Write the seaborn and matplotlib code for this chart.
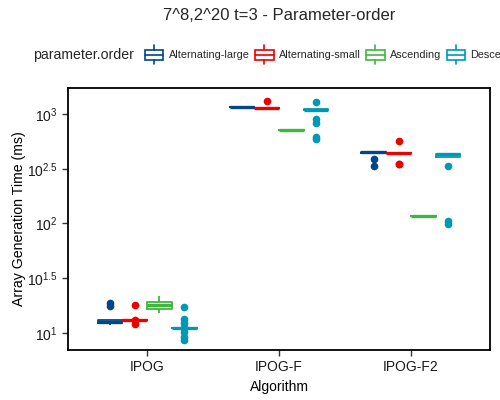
import numpy as np
import pandas as pd
import seaborn as sns
import matplotlib
matplotlib.use("Agg")
from matplotlib import pyplot as plt
from matplotlib.patches import Rectangle
from matplotlib.lines import Line2D
from matplotlib.legend_handler import HandlerBase

algorithms = ["IPOG", "IPOG-F", "IPOG-F2"]
orders = ["Alternating-large", "Alternating-small", "Ascending", "Descending"]
colors = ["#00468B", "#ED0000", "#42B540", "#0099B4"]

# generation times (ms) per algorithm / parameter order
ipog_alt_large = [11.8, 11.9, 12.1, 12.4, 12.6, 12.6, 12.7, 13.0, 13.1, 13.2, 17.7, 18.8]
ipog_alt_small = [12.1, 13.1, 13.2, 13.2, 13.2, 13.2, 13.2, 13.2, 13.3, 13.3, 18.0]
ipog_ascending = [15.2, 16.0, 16.3, 17.2, 17.8, 18.0, 18.2, 18.8, 19.2, 19.5, 21.8]
ipog_descending = [8.6, 9.2, 10.2, 11.0, 11.1, 11.1, 11.1, 11.1, 11.1, 11.1, 11.1,
                   11.1, 11.1, 11.2, 12.3, 13.4, 17.3]

ipogf_alt_large = [1150, 1153, 1156, 1159, 1162, 1165, 1168]
ipogf_alt_small = [1128, 1131, 1133, 1135, 1137, 1139, 1142, 1315]
ipogf_ascending = [706, 709, 712, 714, 716, 719, 722]
ipogf_descending = [590, 616, 828, 900, 1075, 1078, 1081, 1084, 1086, 1088, 1090,
                    1092, 1095, 1098, 1101, 1104, 1107, 1110, 1288]

ipogf2_alt_large = [335, 388, 444, 446, 448, 450, 452, 454, 456]
ipogf2_alt_small = [349, 352, 436, 438, 440, 441, 442, 444, 446, 567]
ipogf2_ascending = [114.5, 115.5, 116.5, 117, 117.5, 118.5, 119.5]
ipogf2_descending = [98.9, 105.4, 335, 427, 428, 429, 430, 431, 432, 433, 434, 436]

runs = {
    ("IPOG", "Alternating-large"): ipog_alt_large,
    ("IPOG", "Alternating-small"): ipog_alt_small,
    ("IPOG", "Ascending"): ipog_ascending,
    ("IPOG", "Descending"): ipog_descending,
    ("IPOG-F", "Alternating-large"): ipogf_alt_large,
    ("IPOG-F", "Alternating-small"): ipogf_alt_small,
    ("IPOG-F", "Ascending"): ipogf_ascending,
    ("IPOG-F", "Descending"): ipogf_descending,
    ("IPOG-F2", "Alternating-large"): ipogf2_alt_large,
    ("IPOG-F2", "Alternating-small"): ipogf2_alt_small,
    ("IPOG-F2", "Ascending"): ipogf2_ascending,
    ("IPOG-F2", "Descending"): ipogf2_descending,
}

rows = []
for (alg, order), vals in runs.items():
    for v in vals:
        rows.append({"Algorithm": alg, "parameter.order": order, "time": v})
df = pd.DataFrame(rows)

sns.set_style("white")
plt.rcParams["font.family"] = ["Liberation Sans", "DejaVu Sans"]
plt.rcParams["mathtext.fontset"] = "custom"
plt.rcParams["mathtext.rm"] = "Liberation Sans"
plt.rcParams["mathtext.default"] = "rm"

fig = plt.figure(figsize=(5, 4), dpi=100)
ax = fig.add_axes([68 / 500, 50 / 400, 422 / 500, 262 / 400])

sns.boxplot(data=df, x="Algorithm", y="time", hue="parameter.order",
            order=algorithms, hue_order=orders, palette=colors,
            fill=False, width=0.75, gap=0, linewidth=1.3, log_scale=True,
            showcaps=False, ax=ax,
            flierprops={"marker": "o", "markersize": 4.5},
            medianprops={"linewidth": 2.4})

# filled outlier points like ggplot
for ln in ax.lines:
    if ln.get_marker() not in ("None", "", None):
        ln.set_markerfacecolor(ln.get_markeredgecolor())

ax.legend_.remove()
ax.set_xlim(-0.6, 2.6)
ax.set_ylim(10 ** 0.845, 10 ** 3.237)
yt = [1, 1.5, 2, 2.5, 3]
ax.set_yticks([10 ** t for t in yt])
ax.set_yticklabels(["$10^{%g}$" % t for t in yt])
ax.yaxis.set_minor_locator(matplotlib.ticker.NullLocator())
ax.tick_params(axis="both", length=4, width=1, color="#333333",
               labelsize=10, labelcolor="#1a1a1a", direction="out")
ax.tick_params(axis="both", left=True, bottom=True)
ax.set_xlabel("Algorithm", fontsize=10, color="black")
ax.set_ylabel("Array Generation Time (ms)", fontsize=10.2, color="black",
              labelpad=0.5)
for s in ax.spines.values():
    s.set_color("black")
    s.set_linewidth(1.3)
ax.grid(False)

fig.suptitle("7^8,2^20 t=3 - Parameter-order", x=279 / 500, y=1 - 16 / 400,
             va="center", fontsize=12)


class BoxHandler(HandlerBase):
    def create_artists(self, legend, orig_handle, xdescent, ydescent,
                       width, height, fontsize, trans):
        c = orig_handle.get_edgecolor()
        x0, y0 = -xdescent, -ydescent
        lw = 1.2
        rect = Rectangle((x0, y0), width, height, fill=False, edgecolor=c,
                         lw=lw, transform=trans)
        mid = Line2D([x0, x0 + width], [y0 + height / 2] * 2, color=c, lw=lw,
                     transform=trans)
        top = Line2D([x0 + width / 2] * 2, [y0 + height, y0 + height * 1.4],
                     color=c, lw=lw, transform=trans)
        bot = Line2D([x0 + width / 2] * 2, [y0, y0 - height * 0.4],
                     color=c, lw=lw, transform=trans)
        return [rect, mid, top, bot]


handles = [Rectangle((0, 0), 1, 1, facecolor="none", edgecolor=c) for c in colors]
fig.text(33 / 500, 1 - 55 / 400, "parameter.order", fontsize=10.2, va="center")
fig.legend(handles, orders, handler_map={Rectangle: BoxHandler()},
           loc="center left", bbox_to_anchor=(145 / 500, 1 - 55 / 400),
           ncol=4, frameon=False, fontsize=7.8, handlelength=1.7,
           handleheight=1.1, handletextpad=0.5, columnspacing=0.5,
           borderaxespad=0, borderpad=0)

fig.savefig("out.png", dpi=100)
